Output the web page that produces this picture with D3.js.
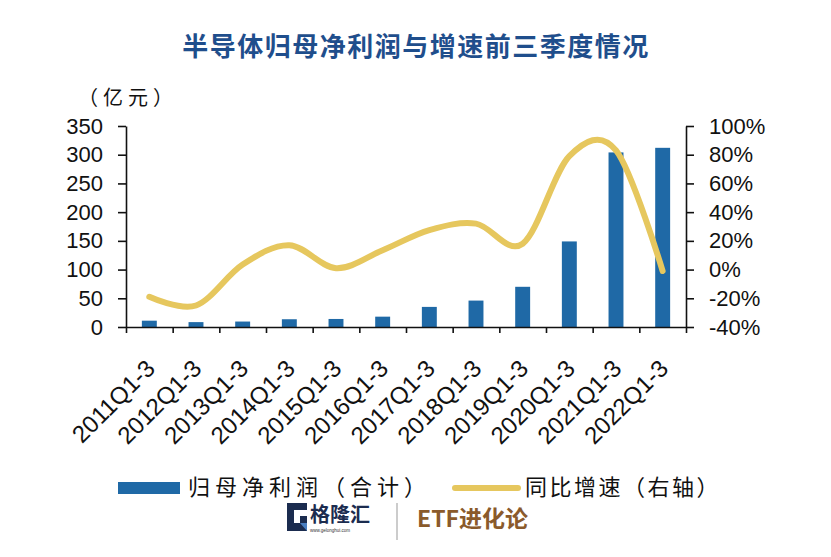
<!DOCTYPE html>
<html><head><meta charset="utf-8">
<script src="https://cdn.jsdelivr.net/npm/d3@7"></script>
<style>
html,body{margin:0;padding:0;background:#fff;}
svg{display:block;}
</style></head>
<body>
<svg id="c" width="831" height="557"></svg>
<script>
const categories = ["2011Q1-3","2012Q1-3","2013Q1-3","2014Q1-3","2015Q1-3","2016Q1-3","2017Q1-3","2018Q1-3","2019Q1-3","2020Q1-3","2021Q1-3","2022Q1-3"];
const profit = [11, 8.5, 9.5, 13.5, 14, 18, 35, 46, 70, 149, 304, 312];
const growth = [-19, -25, 3.5, 17, 1, 13.5, 27.5, 32, 18, 79, 83, -1];
const leftTicks = [0,50,100,150,200,250,300,350];
const rightTicks = [-40,-20,0,20,40,60,80,100];

const title = "半导体归母净利润与增速前三季度情况";
const unitLabel = "（亿元）";
const legendBar = "归母净利润（合计）";
const legendLine = "同比增速（右轴）";

const svg = d3.select("#c");
const L = 126, R = 686, T = 126, B = 327;
const numFont = "'Liberation Sans', Arial, sans-serif";
const cjkFont = "'Noto Sans CJK SC', sans-serif";

const x = d3.scaleBand().domain(categories).range([L, R]).padding(0);
const xi = d3.scaleLinear().domain([0, categories.length]).range([L, R]);
const yL = d3.scaleLinear().domain([0, 350]).range([B, T]);
const yR = d3.scaleLinear().domain([-40, 100]).range([B, T]);

// title
svg.append("text").attr("x", 416).attr("y", 56).attr("text-anchor","middle")
  .attr("font-family", cjkFont).attr("font-weight", 700).attr("font-size", 26)
  .attr("letter-spacing", 1.5).attr("fill", "#1f4e8c").text(title);

svg.append("text").attr("x", 78).attr("y", 105)
  .attr("font-family", cjkFont).attr("font-size", 20).attr("letter-spacing", 5)
  .attr("fill", "#111").text(unitLabel);

// bars
const bw = x.bandwidth() * 0.32;
svg.append("g").selectAll("rect").data(categories).join("rect")
  .attr("x", d => x(d) + x.bandwidth()/2 - bw/2)
  .attr("y", (d,i) => yL(profit[i]))
  .attr("width", bw)
  .attr("height", (d,i) => B - yL(profit[i]))
  .attr("fill", "#1f69a6");

// line
const line = d3.line()
  .x((d,i) => x(categories[i]) + x.bandwidth()/2)
  .y(d => yR(d))
  .curve(d3.curveCardinal.tension(0));
svg.append("path").datum(growth).attr("d", line)
  .attr("fill","none").attr("stroke","#e6c75e").attr("stroke-width",6)
  .attr("stroke-linecap","round").attr("stroke-linejoin","round");

// axes
function styleAxis(g){
  g.selectAll("path,line").attr("stroke","#111").attr("stroke-width",1.6);
  g.selectAll("text").attr("font-family", numFont).attr("font-size", 22).attr("fill","#111");
}
svg.append("g").attr("transform",`translate(${L},0)`)
  .call(d3.axisLeft(yL).tickValues(leftTicks).tickSize(8).tickSizeOuter(0).tickPadding(15))
  .call(styleAxis);
svg.append("g").attr("transform",`translate(${R},0)`)
  .call(d3.axisRight(yR).tickValues(rightTicks).tickSize(8).tickSizeOuter(0).tickPadding(15)
        .tickFormat(d => d + "%"))
  .call(styleAxis);
svg.append("g").attr("transform",`translate(0,${B})`)
  .call(d3.axisBottom(xi).tickValues(d3.range(0, categories.length+1)).tickSize(6).tickSizeOuter(0).tickFormat(""))
  .call(styleAxis);

// x labels
const xl = svg.append("g").attr("transform",`translate(0,${B})`)
  .call(d3.axisBottom(x).tickSize(0).tickSizeOuter(0));
xl.select(".domain").remove();
xl.selectAll("text")
  .attr("font-family", numFont).attr("font-size", 24).attr("fill","#111")
  .attr("text-anchor","end").attr("y", 0).attr("dy", 0)
  .attr("transform","translate(7,43) rotate(-45)");

// legend
svg.append("rect").attr("x",118).attr("y",482).attr("width",62).attr("height",12).attr("fill","#1f69a6");
svg.append("text").attr("x",188).attr("y",495).attr("font-family",cjkFont).attr("font-size",22)
  .attr("letter-spacing",5).attr("fill","#111").text(legendBar);
svg.append("line").attr("x1",455).attr("x2",518).attr("y1",488).attr("y2",488)
  .attr("stroke","#e6c75e").attr("stroke-width",6).attr("stroke-linecap","round");
svg.append("text").attr("x",525).attr("y",495).attr("font-family",cjkFont).attr("font-size",22)
  .attr("letter-spacing",2.5).attr("fill","#111").text(legendLine);

// logo
const lg = svg.append("g");
lg.append("path").attr("d","M287,503 H307 V510 H294 V523 H300 V516 H307 V531 H287 Z").attr("fill","#1b2c4f");
lg.append("path").attr("d","M300,523 L307,531 L307,523 Z").attr("fill","#4a7fc1");
lg.append("text").attr("x",310).attr("y",522).attr("font-family",cjkFont).attr("font-weight",700)
  .attr("font-size",20).attr("fill","#1b2c4f").text("格隆汇");
lg.append("text").attr("x",310).attr("y",532).attr("font-family",numFont).attr("font-size",4.5)
  .attr("fill","#333").text("www.gelonghui.com");
lg.append("line").attr("x1",397).attr("x2",397).attr("y1",503).attr("y2",540)
  .attr("stroke","#999").attr("stroke-width",1);
lg.append("text").attr("x",417).attr("y",527).attr("font-family",cjkFont).attr("font-weight",700)
  .attr("font-size",23).attr("fill","#8a5a2b").text("ETF进化论");
</script>
</body></html>
